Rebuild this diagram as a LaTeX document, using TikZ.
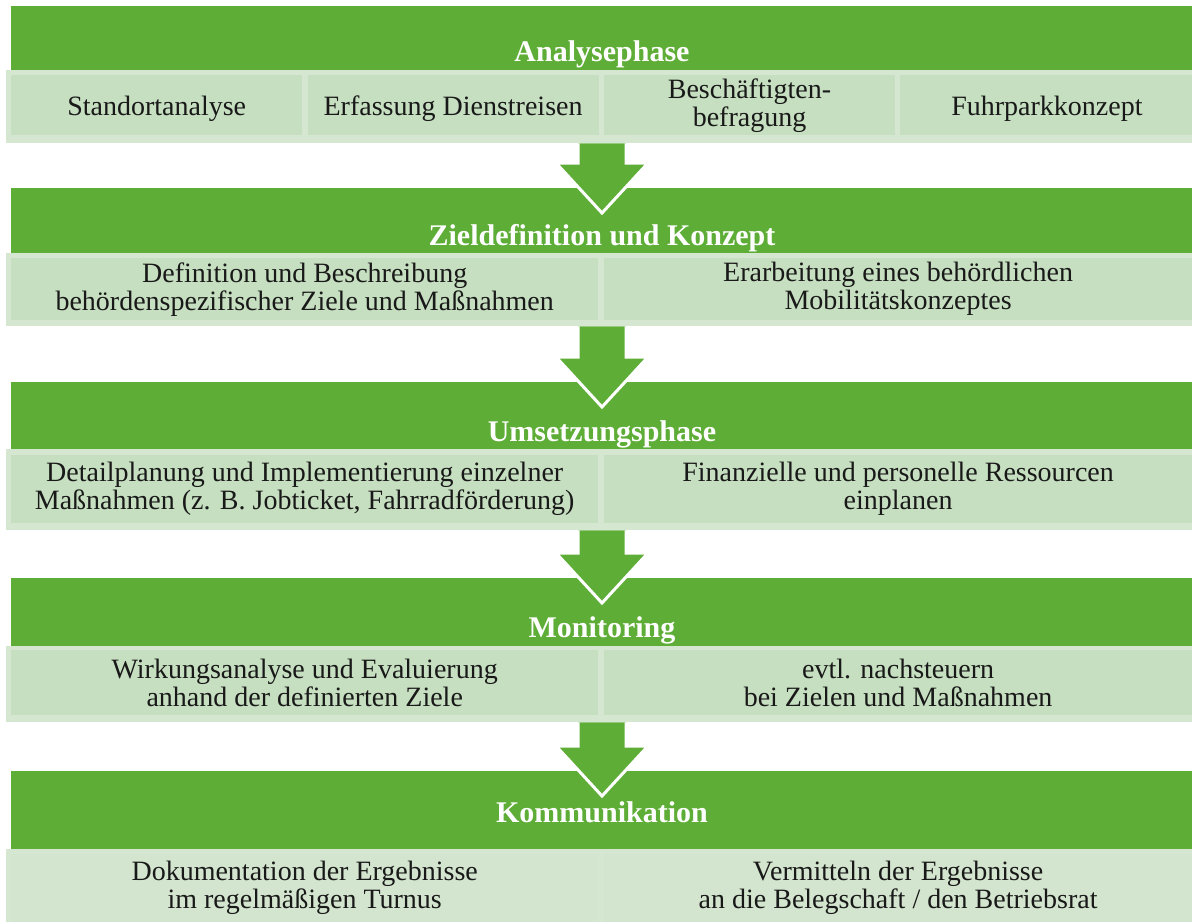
\documentclass[tikz,border=0pt]{standalone}
\usepackage{fontspec}
\setmainfont{Liberation Serif}
\usetikzlibrary{positioning,calc}
\definecolor{hgreen}{RGB}{94,173,54}
\definecolor{lgreen}{RGB}{198,223,192}
\definecolor{pgreen}{RGB}{214,231,209}

\tikzset{
  head/.style={fill=hgreen, minimum width=1181, inner sep=0pt, anchor=north west},
  strip/.style={fill=pgreen, minimum width=1186, inner sep=0pt, anchor=north west},
  sbox/.style={fill=lgreen, inner sep=0pt, align=center, text=black!90,
    font=\fontsize{28}{28}\selectfont},
  oneline/.style={text height=26pt, text depth=6pt},
  htext/.style={text=white, anchor=base, font=\fontsize{30}{32}\selectfont\bfseries},
  darrow/.style={fill=hgreen, draw=white, line width=3pt, line join=miter}
}

% block arrow from a strip down into the next header
\newcommand{\flowarrow}[2]{%
  \coordinate (top) at (ax |- #1.south);
  \coordinate (tip) at ($(ax |- #2.north)+(0,25)$);
  \path[darrow] ($(top)+(-24,0)$) -- ($(tip)+(-24,-50)$) -- ($(tip)+(-46,-50)$)
    -- (tip) -- ($(tip)+(46,-50)$) -- ($(tip)+(24,-50)$) -- ($(top)+(24,0)$);
}

\begin{document}
\begin{tikzpicture}[x=1pt,y=-1pt]
\useasboundingbox (0,0) rectangle (1192,922);
\coordinate (ax) at (602,0);

% Analysephase
\node[head, minimum height=64] (h_1) at (11,6) {};
\node[htext] (t_1) at (602,61) {Analysephase};
\node[strip, minimum height=73] (s_1) at (6,70) {};
\node[sbox, oneline, minimum width=291, minimum height=60, anchor=north west] (b_11) at (11,75) {Standortanalyse};
\node[sbox, oneline, minimum width=291, minimum height=60, right=5pt of b_11] (b_12) {Erfassung Dienstreisen};
\node[sbox, minimum width=291, minimum height=60, right=5pt of b_12, yshift=0pt] (b_13) {Beschäftigten-\\befragung};
\node[sbox, oneline, minimum width=293, minimum height=60, right=5pt of b_13] (b_14) {Fuhrparkkonzept};

% Zieldefinition und Konzept
\node[head, minimum height=65] (h_2) at (11,188) {};
\node[htext] (t_2) at (602,245) {Zieldefinition und Konzept};
\node[strip, minimum height=73] (s_2) at (6,253) {};
\node[sbox, minimum width=587, minimum height=62, anchor=north west] (b_21) at (11,258)
  {Definition und Beschreibung\\behördenspezifischer Ziele und Maßnahmen};
\node[sbox, minimum width=589, minimum height=62, right=5pt of b_21] (b_22)
  {Erarbeitung eines behördlichen\\Mobilitätskonzeptes};

% Umsetzungsphase
\node[head, minimum height=67] (h_3) at (11,382) {};
\node[htext] (t_3) at (602,441) {Umsetzungsphase};
\node[strip, minimum height=81] (s_3) at (6,449) {};
\node[sbox, minimum width=587, minimum height=68, anchor=north west] (b_31) at (11,455)
  {Detailplanung und Implementierung einzelner\\Maßnahmen (z. B. Jobticket, Fahrradförderung)};
\node[sbox, minimum width=589, minimum height=68, right=5pt of b_31] (b_32)
  {Finanzielle und personelle Ressourcen\\einplanen};

% Monitoring
\node[head, minimum height=68] (h_4) at (11,578) {};
\node[htext] (t_4) at (602,637) {Monitoring};
\node[strip, minimum height=76] (s_4) at (6,646) {};
\node[sbox, minimum width=587, minimum height=65, anchor=north west] (b_41) at (11,650)
  {Wirkungsanalyse und Evaluierung\\anhand der definierten Ziele};
\node[sbox, minimum width=589, minimum height=65, right=5pt of b_41] (b_42)
  {evtl. nachsteuern\\bei Zielen und Maßnahmen};

% Kommunikation
\node[head, minimum height=78] (h_5) at (11,771) {};
\node[htext] (t_5) at (602,822) {Kommunikation};
\node[strip, minimum height=73] (s_5) at (6,849) {};
\node[sbox, fill=pgreen!80!lgreen, minimum width=587, minimum height=68, anchor=north west] (b_51) at (11,854)
  {Dokumentation der Ergebnisse\\im regelmäßigen Turnus};
\node[sbox, fill=pgreen!80!lgreen, minimum width=589, minimum height=68, right=5pt of b_51] (b_52)
  {Vermitteln der Ergebnisse\\an die Belegschaft / den Betriebsrat};

% arrows
\flowarrow{s_1}{h_2}
\flowarrow{s_2}{h_3}
\flowarrow{s_3}{h_4}
\flowarrow{s_4}{h_5}
\end{tikzpicture}
\end{document}
